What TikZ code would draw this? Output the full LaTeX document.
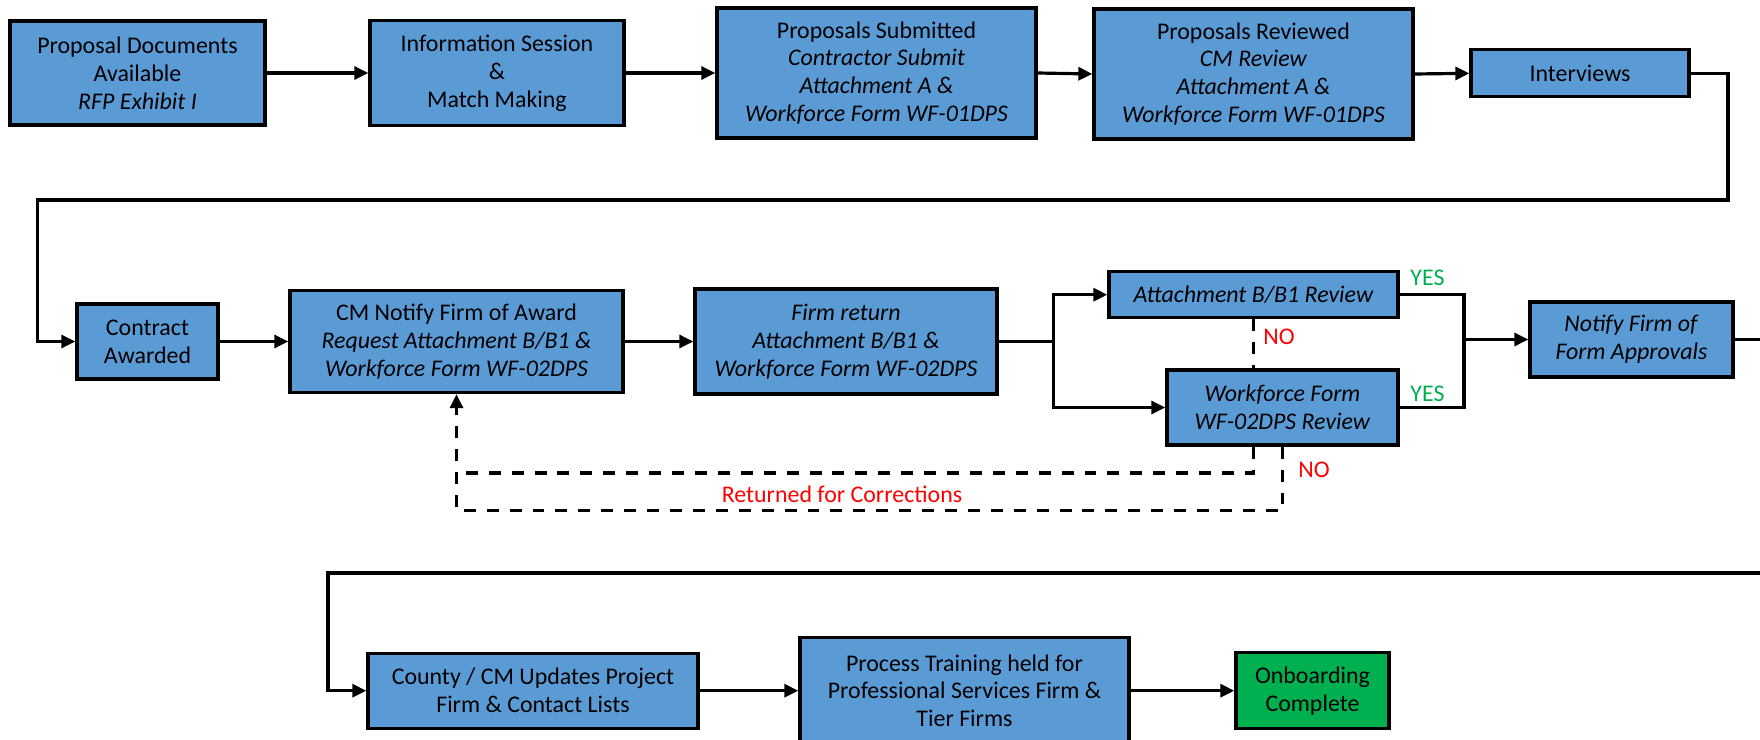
\documentclass[tikz,border=0pt]{standalone}
\usepackage{fontspec}
\setmainfont{Carlito}
\usetikzlibrary{arrows.meta}
\definecolor{boxblue}{HTML}{5B9BD5}
\definecolor{boxgreen}{HTML}{00B050}
\definecolor{yesgreen}{HTML}{00B050}
\definecolor{nored}{HTML}{FF0000}
\tikzset{
  base/.style={draw=black, line width=1.7pt, fill=boxblue, align=center, inner sep=0pt,
    font=\fontsize{12}{14}\selectfont, text=black},
  conn/.style={line width=1.6pt, draw=black},
  arr/.style={conn, -{Triangle[length=7pt,width=6.5pt]}},
  dsh/.style={conn, dash pattern=on 6pt off 5.5pt},
  dsharr/.style={dsh, -{Triangle[length=7pt,width=6.5pt]}},
  lbl/.style={font=\fontsize{12}{14}\selectfont, inner sep=0pt},
  yes/.style={lbl, text=yesgreen},
  no/.style={lbl, text=nored},
}
\begin{document}
\begin{tikzpicture}[x=0.5bp,y=-0.5bp]
\useasboundingbox (0,0) rectangle (1760,740);
\clip (0,0) rectangle (1760,740);
\fill[white] (0,0) rectangle (1760,740);

% Row 1
\node[base, minimum width=127.5bp, minimum height=52bp] (b1) at (137.5,73)
  {Proposal Documents\\Available\\\textit{RFP Exhibit I}};
\node[base, minimum width=127bp, minimum height=52.5bp] (b2) at (497,73)
  {Information Session\\\&\\Match Making};
\node[base, minimum width=159.5bp, minimum height=65bp] (b3) at (876.5,73)
  {Proposals Submitted\\\textit{Contractor Submit}\\\textit{Attachment A \&}\\\textit{Workforce Form WF-01DPS}};
\node[base, minimum width=159.5bp, minimum height=65bp] (b4) at (1253.5,74)
  {Proposals Reviewed\\\textit{CM Review}\\\textit{Attachment A \&}\\\textit{Workforce Form WF-01DPS}};
\node[base, minimum width=109bp, minimum height=23.5bp] (b5) at (1580,73.3)
  {Interviews};

% Row 2
\node[base, minimum width=70.5bp, minimum height=37.5bp] (ca) at (147.5,341.5)
  {Contract\\Awarded};
\node[base, minimum width=166.5bp, minimum height=51bp] (cm) at (456.5,341.5)
  {CM Notify Firm of Award\\\textit{Request Attachment B/B1 \&}\\\textit{Workforce Form WF-02DPS}};
\node[base, minimum width=151bp, minimum height=52.5bp] (fr) at (846,341.5)
  {\textit{Firm return}\\\textit{Attachment B/B1 \&}\\\textit{Workforce Form WF-02DPS}};
\node[base, minimum width=144.5bp, minimum height=23bp] (att) at (1253.5,294.7)
  {\textit{Attachment B/B1 Review}};
\node[base, minimum width=115.5bp, minimum height=37.5bp] (wf) at (1282.5,407.5)
  {\textit{Workforce Form}\\\textit{WF-02DPS Review}};
\node[base, minimum width=101.5bp, minimum height=37.5bp] (nt) at (1631.5,339.5)
  {\textit{Notify Firm of}\\\textit{Form Approvals}};

% Row 3
\node[base, minimum width=165bp, minimum height=37.5bp] (cty) at (533,690.7)
  {County / CM Updates Project\\Firm \& Contact Lists};
\node[base, minimum width=164.5bp, minimum height=53bp] (pt) at (964.5,690.7)
  {Process Training held for\\Professional Services Firm \&\\Tier Firms};
\node[base, fill=boxgreen, minimum width=76.5bp, minimum height=38bp] (ob) at (1312.5,690.7)
  {Onboarding\\Complete};

% Coordinates
\coordinate (t1) at (1728,200);
\coordinate (t2) at (37.7,200);
\coordinate (sp) at (1053.6,341.5);
\coordinate (jn) at (1464,339.5);
\coordinate (ro) at (1775,339.5);
\coordinate (rb) at (1775,573);
\coordinate (lb) at (328,573);
\coordinate (d1) at (1253.5,473);
\coordinate (d2) at (456.5,473);
\coordinate (d4) at (456.5,510.7);

% Row 1 connectors
\draw[arr] (b1.east) -- (b2.west);
\draw[arr] (b2.east) -- (b3.west);
\draw[arr] (b3.east) -- (b4.west);
\draw[arr] (b4.east) -- (b5.west);
\draw[arr] (b5.east) -| (t1) -- (t2) |- (ca.west);

% Row 2 connectors
\draw[arr] (ca.east) -- (cm.west);
\draw[arr] (cm.east) -- (fr.west);
\draw[conn] (fr.east) -- (sp);
\draw[arr] (sp) |- (att.west);
\draw[arr] (sp) |- (wf.west);
\draw[conn] (att.east) -| (jn);
\draw[conn] (wf.east) -| (jn);
\draw[arr] (jn) -- (nt.west);
\draw[arr] (nt.east) -- (ro) -- (rb) -- (lb) |- (cty.west);

% Dashed returns (the first passes behind the WF box)
\draw[dsh] (att.south) -- (att.south |- wf.north);
\draw[dsh] (att.south |- wf.south) -- (d1) -- (d2);
\draw[dsharr] (wf.south) |- (d4) -- (cm.south);

% Row 3 connectors
\draw[arr] (cty.east) -- (pt.west);
\draw[arr] (pt.east) -- (ob.west);

% Labels
\node[yes] (y1) at (1427.5,278) {YES};
\node[yes] (y2) at (1427.5,394) {YES};
\node[no] (n1) at (1279,337) {NO};
\node[no] (n2) at (1314,470) {NO};
\node[no] (rc) at (842,494) {Returned for Corrections};
\end{tikzpicture}
\end{document}
